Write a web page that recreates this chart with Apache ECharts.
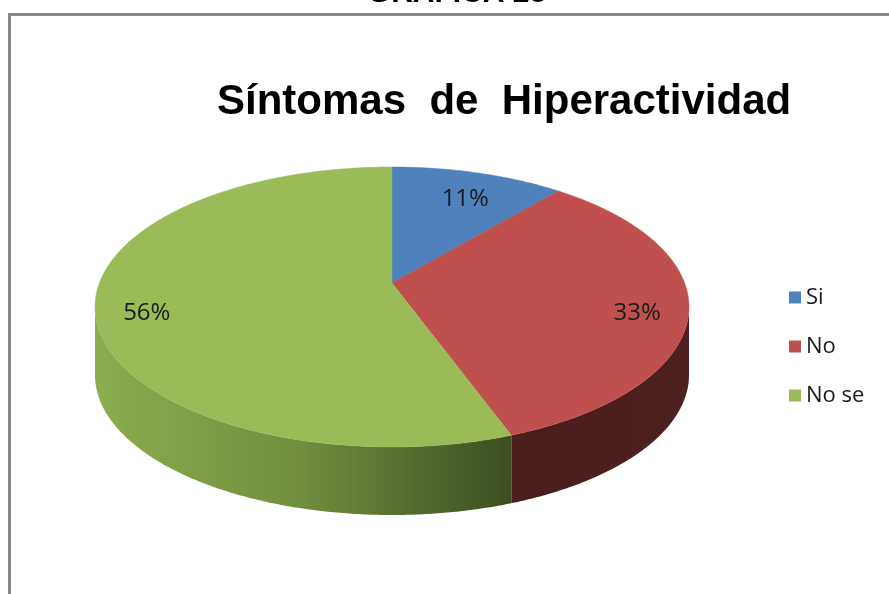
<!DOCTYPE html>
<html>
<head>
<meta charset="utf-8">
<script src="https://cdn.jsdelivr.net/npm/echarts@6/dist/echarts.min.js"></script>
<style>html,body{margin:0;padding:0;background:#fff;}#c{width:889px;height:594px;}</style>
</head>
<body>
<div id="c"></div>
<script>
const categories = ['Si', 'No', 'No se'];
const values = [1, 3, 5];
const topColors = ['#4f81bd', '#c0504d', '#9bbb59'];
const titleText = 'Síntomas  de  Hiperactividad';
const captionText = 'GRÁFICA 28';

// projection of a tilted disc (perspective)
const CX = 392, CY = 283, A = 292.6, B = 135.9, K = -0.1714, DEPTH = 68, LABEL_R = 0.83;
const total = values.reduce((s, v) => s + v, 0);
const starts = [];
{ let acc = 0; values.forEach(v => { starts.push(acc / total * 360); acc += v; }); }

function proj(deg, r, dy) {
  const t = deg * Math.PI / 180;
  const u = r * Math.sin(t), v = -r * Math.cos(t);
  const den = 1 + K * v;
  return [CX + A * u / den, CY + B * v / den + (dy || 0)];
}
const SIL_L = Math.acos(K) * 180 / Math.PI;       // silhouette angles
const SIL_R = 360 - SIL_L;

const wallGradients = [
  [{offset: 0, color: '#3d5f93'}, {offset: 1, color: '#25395a'}],
  [{offset: 0, color: '#4b1d1d'}, {offset: 1, color: '#4f2020'}],
  [{offset: 0, color: '#8cad50'}, {offset: 0.5, color: '#718d3d'}, {offset: 1, color: '#3c4e20'}]
];

function makeRender(i) {
  return function (params, api) {
    const s = starts[i];
    const e = s + values[i] / total * 360;
    const children = [];
    // side wall
    const a = Math.max(s, SIL_L), b = Math.min(e, SIL_R);
    if (b > a) {
      const pts = [];
      for (let d = a; d <= b; d += 0.5) pts.push(proj(d, 1, 0));
      pts.push(proj(b, 1, 0));
      const bot = [];
      for (let d = a; d <= b; d += 0.5) bot.push(proj(d, 1, DEPTH));
      bot.push(proj(b, 1, DEPTH));
      children.push({
        type: 'polygon',
        shape: {points: pts.concat(bot.reverse())},
        style: {fill: new echarts.graphic.LinearGradient(0, 0, 1, 0, wallGradients[i]), stroke: null},
        z2: 1
      });
    }
    // top face
    const top = [[CX, CY]];
    for (let d = s; d <= e; d += 0.5) top.push(proj(d, 1, 0));
    top.push(proj(e, 1, 0));
    children.push({
      type: 'polygon',
      shape: {points: top},
      style: {fill: topColors[i], stroke: topColors[i], lineWidth: 0.5},
      z2: 10
    });
    // label
    const mid = (s + e) / 2;
    const lp = proj(mid, LABEL_R, 10);
    children.push({
      type: 'text',
      style: {
        text: Math.round(values[i] / total * 100) + '%',
        x: lp[0], y: lp[1],
        fill: '#1a1a1a',
        font: '24px "Open Sans"',
        align: 'center', verticalAlign: 'middle',
        textAlign: 'center', textVerticalAlign: 'middle'
      },
      z2: 20
    });
    return {type: 'group', children: children};
  };
}

const series = categories.map((name, i) => ({
  type: 'custom',
  name: name,
  coordinateSystem: 'none',
  renderItem: makeRender(i),
  data: [[values[i]]],
  itemStyle: {color: topColors[i]},
  silent: true
}));

const chart = echarts.init(document.getElementById('c'), null, {renderer: 'canvas'});
chart.setOption({
  animation: false,
  backgroundColor: '#ffffff',
  color: topColors,
  title: {
    text: titleText,
    left: 217,
    top: 81,
    padding: 0,
    textStyle: {fontFamily: '"Liberation Sans", Arial, sans-serif', fontWeight: 'bold', fontSize: 42, color: '#000'}
  },
  legend: {
    data: categories,
    orient: 'vertical',
    left: 789,
    top: 286,
    icon: 'rect',
    itemWidth: 12,
    itemHeight: 12,
    itemGap: 26,
    padding: 0,
    textStyle: {fontFamily: '"Open Sans"', fontSize: 22, color: '#1a1a1a', lineHeight: 23}
  },
  graphic: [
    {
      type: 'rect',
      shape: {x: 9.5, y: 14.5, width: 1000, height: 1000},
      style: {fill: null, stroke: '#878787', lineWidth: 3},
      silent: true
    },
    {
      type: 'text',
      x: 457, y: -6.4,
      style: {
        text: captionText,
        font: 'bold 30px "Liberation Sans"',
        fill: '#000',
        align: 'center', verticalAlign: 'middle',
        textAlign: 'center', textVerticalAlign: 'middle'
      },
      silent: true
    }
  ],
  series: series
});
</script>
</body>
</html>
